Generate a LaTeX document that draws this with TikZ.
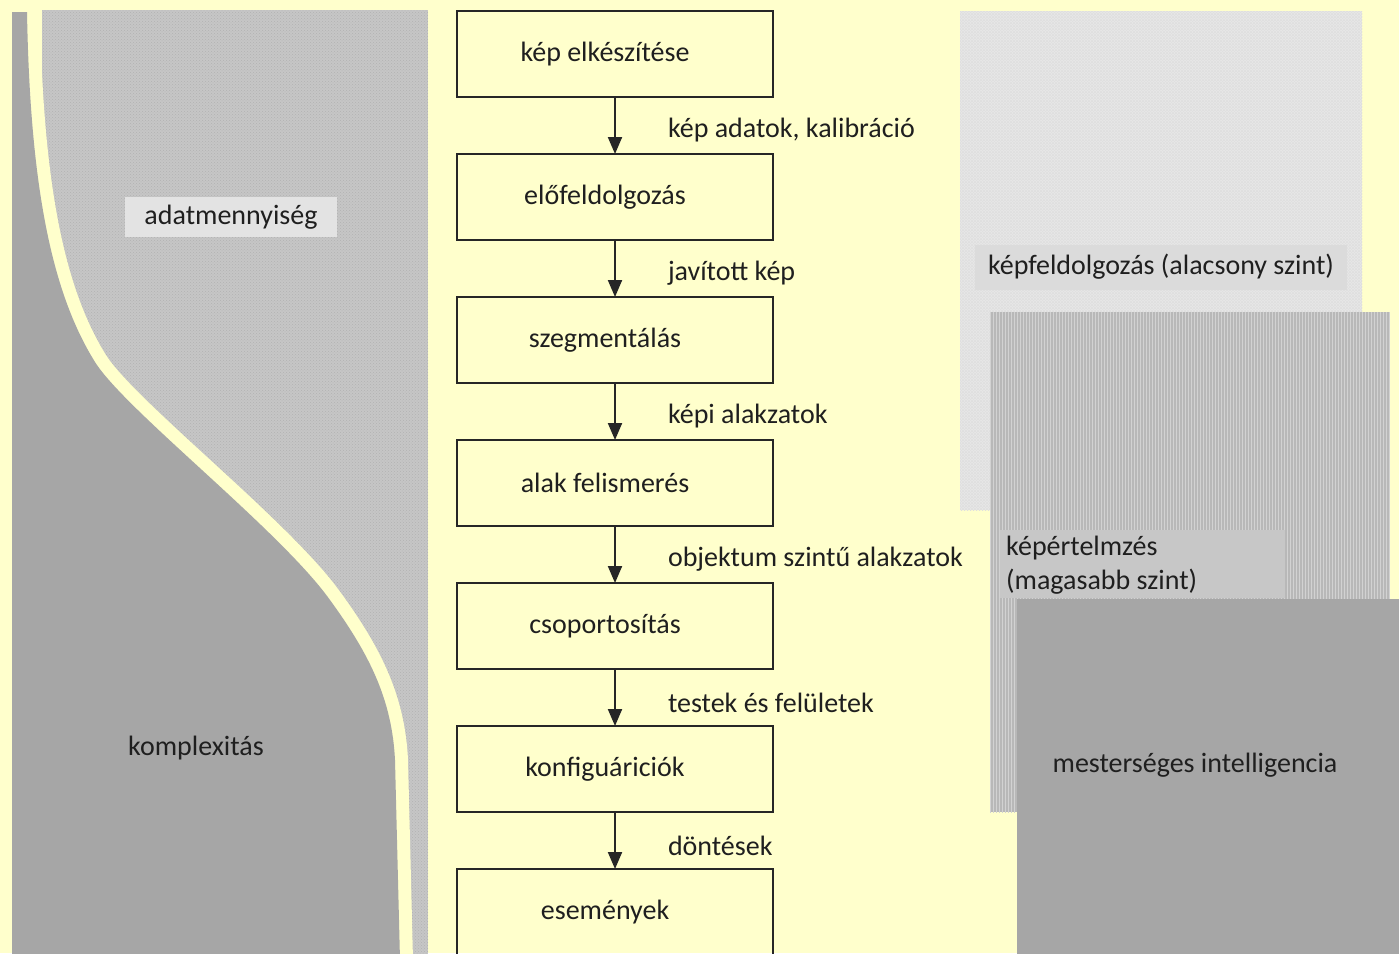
\documentclass[tikz,border=0pt]{standalone}
\usepackage{fontspec}
\setmainfont{Carlito}
\usepackage{xcolor}
\usetikzlibrary{arrows.meta,positioning,patterns}
\definecolor{hatter}{HTML}{FFFFCC}
\definecolor{sotet}{HTML}{A6A6A6}
\definecolor{pottyos}{HTML}{C6C6C6}
\definecolor{halvany}{HTML}{E8E8E8}
\definecolor{csikos}{HTML}{B8B8B8}
\definecolor{keret}{HTML}{262626}

\begin{document}
\begin{tikzpicture}[x=1pt,y=-1pt,
 every node/.style={font=\fontsize{28}{34}\selectfont,text=black!88},
 lepes/.style={draw=keret,line width=2pt,minimum width=316pt,minimum height=86pt,inner sep=0pt,outer sep=0pt,execute at begin node={\hspace*{-20pt}}},
 nyil/.style={-{Triangle[length=17pt,width=14pt]},line width=2pt,draw=keret},
 cimke/.style={anchor=west,xshift=52pt,yshift=-5pt,inner sep=0pt},
 felirat/.style={inner sep=0pt}]
\path[use as bounding box,fill=hatter](0,0)rectangle(1399,953);
\fill[pottyos,postaction={pattern=crosshatch dots,pattern color=gray!60}](42,10)rectangle(428,960);
\draw[hatter,line width=26pt](27,12)..controls(30,180)and(50,290)..(95,362)..controls(125,410)and(280,530)..(330,600)..controls(370,655)and(392,700)..(395,760)--(400,960);
\fill[sotet](12,12)--(27,12)..controls(30,180)and(50,290)..(95,362)..controls(125,410)and(280,530)..(330,600)..controls(370,655)and(392,700)..(395,760)--(400,960)--(12,960)--cycle;
\fill[halvany,postaction={pattern=crosshatch,pattern color=gray!25}](960,11)rectangle(1362,510);
\fill[csikos,postaction={pattern=vertical lines,pattern color=gray!35}](990,312)rectangle(1390,812);
\node[felirat,fill=black!11,minimum width=212pt,minimum height=40pt](adat) at (231,217){adatmennyiség};
\node[felirat](komp) at (196,748){komplexitás};
\node[felirat,fill=black!14,minimum width=372pt,minimum height=45pt](alacsony) at (1161,267){képfeldolgozás (alacsony szint)};
\fill[black!22](1000,530)rectangle(1285,598);
\node[felirat,align=left,anchor=west](magas) at (1006,565){képértelmzés\\(magasabb szint)};
\fill[sotet](1017,599)rectangle(1399,960);
\node[felirat](mi) at (1195,765){mesterséges intelligencia};
\node[lepes](k1) at (615,54){kép elkészítése};
\node[lepes,below=57pt of k1](k2){előfeldolgozás};
\node[lepes,below=57pt of k2](k3){szegmentálás};
\node[lepes,below=57pt of k3](k4){alak felismerés};
\node[lepes,below=57pt of k4](k5){csoportosítás};
\node[lepes,below=57pt of k5](k6){konfiguáriciók};
\node[lepes,below=57pt of k6](k7){események};
\draw[nyil](k1)--node[cimke]{kép adatok, kalibráció}(k2);
\draw[nyil](k2)--node[cimke]{javított kép}(k3);
\draw[nyil](k3)--node[cimke]{képi alakzatok}(k4);
\draw[nyil](k4)--node[cimke]{objektum szintű alakzatok}(k5);
\draw[nyil](k5)--node[cimke]{testek és felületek}(k6);
\draw[nyil](k6)--node[cimke]{döntések}(k7);
\end{tikzpicture}
\end{document}
